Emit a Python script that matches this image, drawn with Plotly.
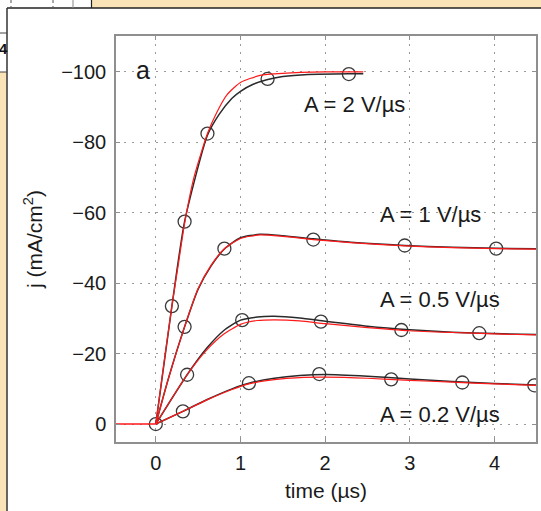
import plotly.graph_objects as go

# ---------------- data ----------------
baseline_t = [-0.47, 0.0]
baseline_j = [0.0, 0.0]

# A = 2 V/us
a2_fit_t = [0.0, 0.1, 0.19, 0.27, 0.34, 0.45, 0.61, 0.72, 0.84, 1.0, 1.23, 1.5, 2.0, 2.45]
a2_fit_j = [0.0, -18.0, -33.5, -46.0, -57.0, -70.0, -82.5, -88.5, -93.5, -97.0, -99.0, -99.6, -100.0, -100.0]
a2_meas_t = [0.0, 0.19, 0.34, 0.61, 0.75, 0.9, 1.0, 1.15, 1.31, 1.5, 1.8, 2.28, 2.45]
a2_meas_j = [0.0, -33.5, -57.5, -82.0, -88.0, -92.5, -94.5, -96.5, -97.8, -98.7, -99.3, -99.5, -99.5]
a2_mark_t = [0.19, 0.34, 0.61, 1.32, 2.28]
a2_mark_j = [-33.5, -57.5, -82.5, -98.0, -99.4]

# A = 1 V/us
a1_fit_t = [0.0, 0.15, 0.34, 0.5, 0.65, 0.81, 1.0, 1.23, 1.5, 1.86, 2.3, 2.94, 3.5, 4.02, 4.5]
a1_fit_j = [0.0, -13.0, -27.6, -38.5, -45.0, -49.8, -52.7, -53.7, -53.3, -52.4, -51.5, -50.6, -50.1, -49.8, -49.7]
a1_meas_t = [0.0, 0.15, 0.34, 0.5, 0.65, 0.81, 1.0, 1.23, 1.5, 1.86, 2.3, 2.94, 3.5, 4.02, 4.5]
a1_meas_j = [0.0, -13.0, -27.6, -38.3, -44.8, -49.7, -52.9, -53.9, -53.5, -52.6, -51.6, -50.7, -50.2, -49.9, -49.8]
a1_mark_t = [0.34, 0.81, 1.86, 2.94, 4.02]
a1_mark_j = [-27.6, -49.8, -52.4, -50.7, -49.8]

# A = 0.5 V/us
a05_fit_t = [0.0, 0.37, 0.6, 0.8, 1.0, 1.2, 1.4, 1.7, 2.0, 2.5, 3.0, 3.5, 4.0, 4.5]
a05_fit_j = [0.0, -14.0, -21.0, -25.5, -28.3, -29.4, -29.6, -29.3, -28.5, -27.4, -26.5, -26.0, -25.6, -25.3]
a05_meas_t = [0.0, 0.37, 0.6, 0.8, 1.0, 1.2, 1.4, 1.7, 2.0, 2.5, 3.0, 3.5, 4.0, 4.5]
a05_meas_j = [0.0, -14.0, -21.5, -26.5, -29.5, -30.4, -30.6, -30.1, -29.2, -27.8, -26.8, -26.1, -25.7, -25.4]
a05_mark_t = [0.37, 1.02, 1.95, 2.9, 3.82]
a05_mark_j = [-14.0, -29.5, -29.1, -26.7, -25.8]

# A = 0.2 V/us
a02_fit_t = [0.0, 0.32, 0.6, 0.9, 1.1, 1.4, 1.7, 2.0, 2.5, 3.0, 3.5, 4.0, 4.5]
a02_fit_j = [0.0, -3.6, -6.8, -9.8, -11.4, -12.6, -13.2, -13.3, -13.0, -12.4, -11.9, -11.4, -11.0]
a02_meas_t = [0.0, 0.32, 0.6, 0.9, 1.1, 1.4, 1.7, 2.0, 2.5, 3.0, 3.5, 4.0, 4.5]
a02_meas_j = [0.0, -3.6, -6.9, -10.0, -11.6, -13.0, -13.8, -14.1, -13.6, -12.8, -12.1, -11.5, -11.1]
a02_mark_t = [0.32, 1.10, 1.93, 2.78, 3.62, 4.47]
a02_mark_j = [-3.6, -11.6, -14.2, -12.7, -11.8, -11.0]

origin_t = [0.0]
origin_j = [0.0]

x_tick_vals = [0, 1, 2, 3, 4]
x_tick_text = ["0", "1", "2", "3", "4"]
y_tick_vals = [-100, -80, -60, -40, -20, 0]
y_tick_text = ["\u2212100", "\u221280", "\u221260", "\u221240", "\u221220", "0"]

series_labels = ["A = 2 V/\u00b5s", "A = 1 V/\u00b5s", "A = 0.5 V/\u00b5s", "A = 0.2 V/\u00b5s"]
label_t = [1.73, 2.62, 2.62, 2.62]
label_j = [-90.7, -59.5, -35.4, -2.8]

# ---------------- figure ----------------
W, H = 541, 511
FONT = "Liberation Sans, Arial, Helvetica, sans-serif"
RED = "#ff1a1a"
BLACK = "#2a2a2a"
MARK = "#3a3a3a"

fig = go.Figure()

measured = [(a2_meas_t, a2_meas_j), (a1_meas_t, a1_meas_j), (a05_meas_t, a05_meas_j), (a02_meas_t, a02_meas_j)]
fits = [(a2_fit_t, a2_fit_j), (a1_fit_t, a1_fit_j), (a05_fit_t, a05_fit_j), (a02_fit_t, a02_fit_j)]
marks = [(a2_mark_t, a2_mark_j), (a1_mark_t, a1_mark_j), (a05_mark_t, a05_mark_j), (a02_mark_t, a02_mark_j), (origin_t, origin_j)]

for t, j in marks:
    fig.add_trace(go.Scatter(x=t, y=j, mode="markers",
                             marker=dict(symbol="circle-open", size=13, color=MARK, line=dict(width=1.3, color=MARK)),
                             showlegend=False, hoverinfo="skip"))
for t, j in measured:
    fig.add_trace(go.Scatter(x=t, y=j, mode="lines", line=dict(color=BLACK, width=1.5, shape="spline", smoothing=0.6),
                             showlegend=False, hoverinfo="skip"))
fig.add_trace(go.Scatter(x=baseline_t, y=baseline_j, mode="lines", line=dict(color=RED, width=1.5),
                         showlegend=False, hoverinfo="skip"))
for t, j in fits:
    fig.add_trace(go.Scatter(x=t, y=j, mode="lines", line=dict(color=RED, width=1.2, shape="spline", smoothing=0.6),
                             showlegend=False, hoverinfo="skip"))

annotations = []
for txt, t, j in zip(series_labels, label_t, label_j):
    annotations.append(dict(x=t, y=j, xref="x", yref="y", text=txt, showarrow=False, xanchor="left", yanchor="middle",
                            font=dict(family=FONT, size=22, color="#1a1a1a")))
annotations.append(dict(x=-0.15, y=-100.5, xref="x", yref="y", text="a", showarrow=False, xanchor="center", yanchor="middle",
                        font=dict(family=FONT, size=25, color="#1a1a1a")))
# axis titles
annotations.append(dict(x=326 / W, y=1 - 490 / H, xref="paper", yref="paper", text="time (\u00b5s)", showarrow=False,
                        xanchor="center", yanchor="middle", font=dict(family=FONT, size=21, color="#1a1a1a")))
annotations.append(dict(x=33 / W, y=1 - 240 / H, xref="paper", yref="paper", text="j (mA/cm<sup>2</sup>)", showarrow=False,
                        textangle=-90, xanchor="center", yanchor="middle", font=dict(family=FONT, size=21, color="#1a1a1a")))
# stray table text at the cropped left edge
annotations.append(dict(x=0, y=1 - 49 / H, xref="paper", yref="paper", text="<b>4</b>", showarrow=False,
                        xanchor="left", yanchor="middle", xshift=-3, font=dict(family=FONT, size=15, color="#111")))

def px(x):
    return x / W

def py(y):
    return 1 - y / H

BEIGE = "#f9e3b7"
shapes = [
    dict(type="rect", xref="paper", yref="paper", x0=px(92), x1=px(541), y0=py(8), y1=py(0), fillcolor=BEIGE, line=dict(width=0), layer="below"),
    dict(type="rect", xref="paper", yref="paper", x0=px(0), x1=px(6.5), y0=py(511), y1=py(72), fillcolor=BEIGE, line=dict(width=0), layer="below"),
    dict(type="line", xref="paper", yref="paper", x0=px(7), x1=px(541), y0=py(8), y1=py(8), line=dict(color="#222", width=1.5)),
    dict(type="line", xref="paper", yref="paper", x0=px(7), x1=px(7), y0=py(8), y1=py(511), line=dict(color="#333", width=1.5)),
    dict(type="line", xref="paper", yref="paper", x0=px(91.5), x1=px(91.5), y0=py(0), y1=py(8), line=dict(color="#222", width=1.2)),
    dict(type="line", xref="paper", yref="paper", x0=px(73), x1=px(73), y0=py(0), y1=py(8), line=dict(color="#888", width=1)),
    dict(type="line", xref="paper", yref="paper", x0=px(11), x1=px(11), y0=py(0), y1=py(8), line=dict(color="#555", width=1, dash="dot")),
    dict(type="line", xref="paper", yref="paper", x0=px(53), x1=px(53), y0=py(0), y1=py(8), line=dict(color="#555", width=1, dash="dot")),
    dict(type="line", xref="paper", yref="paper", x0=px(0), x1=px(7), y0=py(33), y1=py(33), line=dict(color="#444", width=1)),
    dict(type="line", xref="paper", yref="paper", x0=px(0), x1=px(7), y0=py(72), y1=py(72), line=dict(color="#444", width=1)),
]

axis_common = dict(
    showgrid=True, gridcolor="#9a9a9a", gridwidth=1, griddash="2px,6px",
    showline=True, linecolor="#8f8f8f", linewidth=1.5, mirror="ticks",
    ticks="inside", ticklen=4, tickcolor="#8f8f8f", tickwidth=1,
    zeroline=False, tickfont=dict(family=FONT, size=20, color="#1a1a1a"),
)

fig.update_layout(
    width=W, height=H,
    margin=dict(l=0, r=0, t=0, b=0),
    paper_bgcolor="white", plot_bgcolor="white",
    showlegend=False,
    xaxis=dict(range=[-0.47, 4.49], domain=[116 / W, 536 / W], tickvals=x_tick_vals, ticktext=x_tick_text,
               ticklabelstandoff=2, **axis_common),
    yaxis=dict(range=[5.1, -110.2], domain=[1 - 442 / H, 1 - 36 / H], tickvals=y_tick_vals, ticktext=y_tick_text,
               ticklabelstandoff=4, **axis_common),
    annotations=annotations,
    shapes=shapes,
)

fig.write_html("out.html",
               config={"displayModeBar": False},
               post_script="document.body.style.margin='0';document.body.style.overflow='hidden';")
